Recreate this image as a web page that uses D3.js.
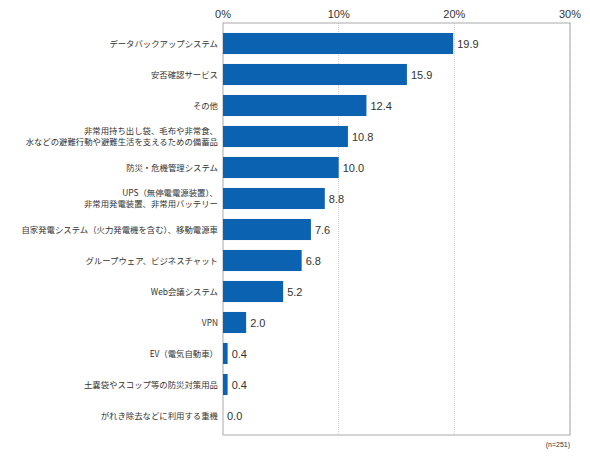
<!DOCTYPE html>
<html><head><meta charset="utf-8">
<script src="https://cdn.jsdelivr.net/npm/d3@7"></script>
<style>body{margin:0;background:#fff}</style>
</head><body><div id="container"></div>
<script>
var categories = [
  ["データバックアップシステム"],
  ["安否確認サービス"],
  ["その他"],
  ["非常用持ち出し袋、毛布や非常食、", "水などの避難行動や避難生活を支えるための備蓄品"],
  ["防災・危機管理システム"],
  ["UPS（無停電電源装置）、", "非常用発電装置、非常用バッテリー"],
  ["自家発電システム（火力発電機を含む）、移動電源車"],
  ["グループウェア、ビジネスチャット"],
  ["Web会議システム"],
  ["VPN"],
  ["EV（電気自動車）"],
  ["土嚢袋やスコップ等の防災対策用品"],
  ["がれき除去などに利用する重機"]
];
var values = [19.9, 15.9, 12.4, 10.8, 10.0, 8.8, 7.6, 6.8, 5.2, 2.0, 0.4, 0.4, 0.0];
var ticks = [0, 10, 20, 30];

var font = "'Noto Sans CJK JP', sans-serif";
var numFont = "'Liberation Sans', sans-serif";
var svg = d3.select("#container").append("svg").attr("width", 590).attr("height", 458);
var x = d3.scaleLinear().domain([0, 30]).range([223, 570]);
var y = d3.scaleBand().domain(d3.range(categories.length)).range([28, 431]).paddingInner(0.32).paddingOuter(0.16);

ticks.slice(1).forEach(function (t) {
  svg.append("line").attr("x1", x(t)).attr("x2", x(t)).attr("y1", 23).attr("y2", 435)
    .attr("stroke", "#ccc").attr("stroke-dasharray", "1,1");
});
svg.append("rect").attr("x", x(0)).attr("y", 23).attr("width", x(30) - x(0)).attr("height", 412)
  .attr("fill", "none").attr("stroke", "#aaa");

svg.selectAll(".tick").data(ticks).enter().append("text")
  .attr("x", function (d) { return x(d); }).attr("y", 18).attr("text-anchor", "middle")
  .style("font-family", numFont).style("font-size", "11px").attr("fill", "#333")
  .text(function (d) { return d + "%"; });

svg.selectAll(".bar").data(values).enter().append("rect")
  .attr("x", x(0)).attr("y", function (d, i) { return y(i); })
  .attr("width", function (d) { return x(d) - x(0); }).attr("height", y.bandwidth())
  .attr("fill", "#0a62b0");

svg.selectAll(".val").data(values).enter().append("text")
  .attr("x", function (d) { return x(d) + 4; })
  .attr("y", function (d, i) { return y(i) + y.bandwidth() / 2 + 4; })
  .style("font-family", numFont).style("font-size", "11px").attr("fill", "#333")
  .text(function (d) { return d.toFixed(1); });

categories.forEach(function (lines, i) {
  var cy = y(i) + y.bandwidth() / 2;
  var t = svg.append("text").attr("text-anchor", "end")
    .style("font-family", font).style("font-size", "8.4px").attr("fill", "#333");
  lines.forEach(function (l, j) {
    t.append("tspan").attr("x", 218)
      .attr("y", cy + 3 + (j - (lines.length - 1) / 2) * 11).text(l);
  });
});

svg.append("text").attr("x", 570).attr("y", 447).attr("text-anchor", "end")
  .style("font-family", numFont).style("font-size", "7px").attr("fill", "#333").text("(n=251)");
</script></body></html>
